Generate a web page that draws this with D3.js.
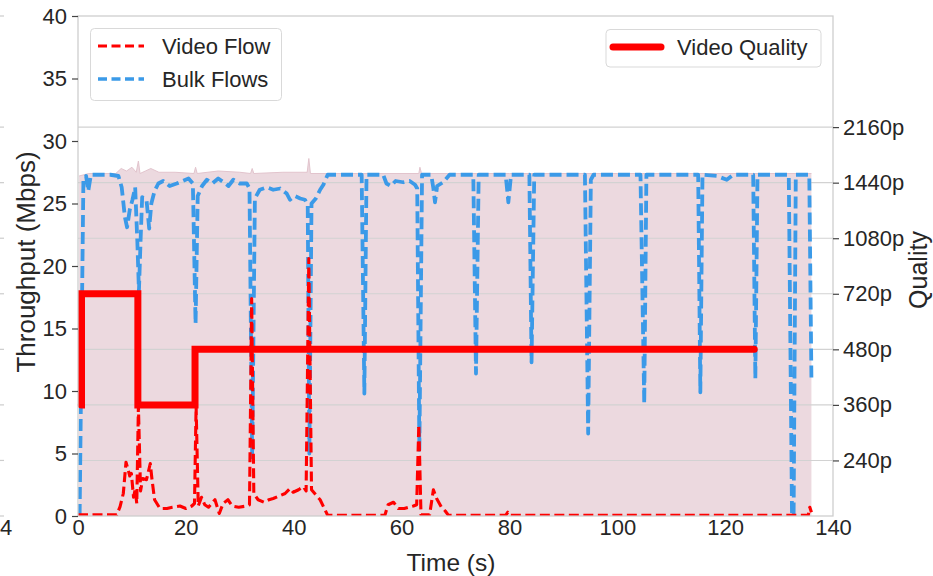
<!DOCTYPE html>
<html>
<head>
<meta charset="utf-8">
<script src="https://cdn.jsdelivr.net/npm/d3@7"></script>
<style>
  html, body { margin: 0; padding: 0; background: #ffffff; }
  svg { display: block; font-family: "Liberation Sans", Arial, sans-serif; }
</style>
</head>
<body>
<svg id="chart" width="933" height="576"></svg>
<script>
// ---- data -------------------------------------------------------------
// Total link throughput (shaded area), Mbps
const totalTimes  = [0.2, 2, 7, 8, 9, 10, 10.8, 11.2, 11.5, 12.5, 13.5, 15, 18, 21.5, 21.8, 22.1, 26, 30, 32, 32.3, 32.6, 38, 42.5, 42.8, 43.1, 46, 63.2, 63.4, 63.7, 80, 100, 120, 136];
const totalValues = [27.2, 27.4, 27.4, 27.8, 27.6, 27.9, 27.5, 28.4, 27.4, 27.6, 27.8, 27.5, 27.5, 27.4, 27.9, 27.4, 27.6, 27.5, 27.4, 27.8, 27.4, 27.5, 27.5, 28.6, 27.4, 27.4, 27.4, 27.9, 27.4, 27.4, 27.4, 27.4, 27.4];

// Bulk flows throughput, Mbps
const bulkTimes  = [0.3, 1.0, 1.5, 1.9, 2.4, 4, 6, 7.5, 8.1, 8.7, 9.1, 9.6, 10.1, 10.6, 11.0, 11.3, 11.6, 11.9, 12.7, 13.2, 13.6, 14.2, 14.9, 15.8, 17.0, 18.3, 19.4, 20.5, 21.3, 21.8, 22.2, 23.0, 23.9, 24.9, 26.0, 27.0, 27.9, 28.8, 30.0, 31.3, 31.8, 32.3, 32.8, 33.7, 35.0, 36.2, 37.5, 38.7, 39.3, 40.2, 41.2, 42.1, 42.6, 42.9, 43.3, 44.1, 44.9, 45.5, 46.3, 52.6, 53.1, 53.5, 56.6, 57.2, 58.0, 58.9, 60.3, 61.5, 62.5, 62.9, 63.3, 63.8, 65.5, 65.9, 66.2, 66.6, 67.7, 68.9, 73.3, 73.8, 74.3, 79.3, 79.8, 80.3, 83.7, 84.1, 84.6, 94.0, 94.6, 95.1, 95.6, 104.3, 105.0, 105.4, 115.0, 115.4, 115.8, 118.5, 120.3, 121.5, 125.2, 125.6, 126.0, 131.8, 132.4, 132.7, 133.1, 135.6, 136.0];
const bulkValues = [0.0, 26.8, 27.2, 26.0, 27.3, 27.3, 27.3, 27.2, 26.3, 23.9, 23.1, 24.5, 25.3, 26.3, 22.0, 18.0, 22.0, 25.5, 25.3, 23.0, 25.0, 26.0, 26.6, 26.8, 26.4, 26.6, 26.8, 27.0, 26.6, 15.4, 25.6, 26.4, 26.9, 26.6, 27.0, 26.7, 26.4, 26.9, 26.6, 26.6, 26.2, 4.7, 25.4, 26.1, 26.3, 26.1, 26.2, 25.8, 25.3, 25.6, 25.4, 25.3, 24.8, 5.0, 25.0, 25.4, 26.1, 26.5, 27.3, 27.3, 9.8, 27.3, 27.3, 26.6, 26.4, 26.8, 26.7, 26.8, 26.5, 26.2, 5.3, 27.3, 27.3, 26.2, 25.1, 26.4, 26.7, 27.3, 27.3, 11.4, 27.3, 27.3, 25.1, 27.3, 27.3, 12.3, 27.3, 27.3, 6.6, 26.9, 27.3, 27.3, 9.0, 27.3, 27.3, 9.9, 27.3, 27.2, 26.9, 27.3, 27.3, 11.0, 27.3, 27.3, 0.0, 0.2, 27.3, 27.3, 10.9];

// Video flow throughput, Mbps
const videoTimes  = [0, 7.2, 7.8, 8.4, 8.9, 9.3, 9.6, 9.9, 10.3, 10.6, 10.9, 11.2, 11.6, 12.0, 12.7, 13.4, 13.7, 14.2, 15.2, 16.5, 17.5, 18.9, 20.0, 21.1, 21.6, 21.9, 22.3, 22.9, 23.5, 24.2, 25.4, 26.2, 26.9, 27.8, 28.6, 29.8, 31.3, 31.8, 32.2, 32.6, 33.4, 34.5, 35.4, 36.2, 37.3, 38.4, 39.3, 39.9, 40.9, 41.8, 42.3, 42.8, 43.3, 43.9, 44.9, 45.8, 46.3, 56.9, 57.5, 58.5, 59.4, 60.5, 62.2, 62.8, 63.2, 63.6, 65.2, 65.9, 66.5, 67.4, 68.1, 68.7, 79.3, 79.7, 80.1, 135.4, 135.7, 136.0];
const videoValues = [0.1, 0.1, 0.75, 1.8, 4.3, 3.7, 3.2, 3.4, 1.5, 2.1, 1.0, 8.8, 2.0, 3.0, 2.9, 4.2, 3.0, 1.3, 0.6, 0.6, 0.7, 0.8, 0.6, 0.8, 1.0, 8.8, 0.8, 1.5, 0.9, 0.7, 1.3, 0.2, 1.0, 1.3, 0.8, 0.7, 0.8, 0.9, 17.4, 1.8, 1.3, 1.1, 1.3, 1.4, 1.6, 1.8, 2.2, 1.9, 2.1, 2.35, 2.0, 20.6, 2.1, 1.8, 1.3, 0.5, 0.05, 0.05, 0.9, 1.1, 0.6, 0.6, 0.8, 0.9, 7.3, 0.1, 0.1, 2.1, 1.4, 0.7, 0.4, 0.05, 0.05, 0.3, 0.05, 0.05, 0.7, 0.3];

// Video quality (step changes), on the right-hand axis
const qualityLabels = ["240p", "360p", "480p", "720p", "1080p", "1440p", "2160p"];
const qualityTimes  = [0.6, 0.65, 11.1, 21.7, 125.4];
const qualityValues = ["360p", "720p", "360p", "480p", "480p"];

const throughputTicks = [0, 5, 10, 15, 20, 25, 30, 35, 40];
const timeTicks = [0, 20, 40, 60, 80, 100, 120, 140];

// ---- layout -----------------------------------------------------------
const svg = d3.select("#chart");
const plotLeft = 78, plotRight = 833, plotTop = 16, plotBottom = 516;
const textColor = "#262626";
const gridColor = "#d2d2d2";
const spineColor = "#cccccc";
const fontTick = 22, fontLegend = 22;
const bulkColor = "#3b9ae8", videoColor = "#ff0000";

const x  = d3.scaleLinear().domain([0, 140]).range([plotLeft, plotRight]);
const y  = d3.scaleLinear().domain([0, 40]).range([plotBottom, plotTop]);
const yq = d3.scaleLinear().domain([0, 9]).range([plotBottom, plotTop]);
const qIndex = q => qualityLabels.indexOf(q) + 1;

// neighbouring panel edge on the far left
const stubYs = [plotTop, plotBottom].concat(qualityLabels.map((q, i) => yq(i + 1)));
svg.append("g").selectAll("line").data(stubYs).join("line")
  .attr("x1", 0).attr("x2", 4).attr("y1", d => d).attr("y2", d => d)
  .attr("stroke", spineColor).attr("stroke-width", 1.2);
svg.append("text").attr("x", 0).attr("y", 535).attr("text-anchor", "start")
  .attr("font-size", fontTick).attr("fill", textColor).text("4");

// clip to plot area
svg.append("clipPath").attr("id", "plotClip")
  .append("rect").attr("x", plotLeft).attr("y", plotTop)
  .attr("width", plotRight - plotLeft).attr("height", plotBottom - plotTop);
const plot = svg.append("g").attr("clip-path", "url(#plotClip)");

// total throughput area
const totalData = totalTimes.map((t, i) => [t, totalValues[i]]);
plot.append("path").datum(totalData)
  .attr("d", d3.area().x(d => x(d[0])).y0(y(0)).y1(d => y(d[1])))
  .attr("fill", "#ecd9df");
plot.append("path").datum(totalData)
  .attr("d", d3.line().x(d => x(d[0])).y(d => y(d[1])))
  .attr("fill", "none").attr("stroke", "#e2c4cd").attr("stroke-width", 1);

// grid lines from the quality axis
plot.append("g").selectAll("line").data(qualityLabels.map((q, i) => i + 1)).join("line")
  .attr("x1", plotLeft).attr("x2", plotRight).attr("y1", d => yq(d)).attr("y2", d => yq(d))
  .attr("stroke", gridColor).attr("stroke-width", 1.1);

// bulk flows
const bulkData = bulkTimes.map((t, i) => [t, bulkValues[i]]);
plot.append("path").datum(bulkData)
  .attr("d", d3.line().x(d => x(d[0])).y(d => y(d[1])))
  .attr("fill", "none").attr("stroke", bulkColor).attr("stroke-width", 3.8)
  .attr("stroke-dasharray", "12,5").attr("stroke-linejoin", "round");

// video flow
const videoData = videoTimes.map((t, i) => [t, videoValues[i]]);
plot.append("path").datum(videoData)
  .attr("d", d3.line().x(d => x(d[0])).y(d => y(d[1])))
  .attr("fill", "none").attr("stroke", videoColor).attr("stroke-width", 3.1)
  .attr("stroke-dasharray", "10,4.5").attr("stroke-linejoin", "round");

// video quality
const qualityData = qualityTimes.map((t, i) => [t, qIndex(qualityValues[i])]);
svg.append("path").datum(qualityData)
  .attr("d", d3.line().curve(d3.curveStepAfter).x(d => x(d[0])).y(d => yq(d[1])))
  .attr("fill", "none").attr("stroke", videoColor).attr("stroke-width", 7)
  .attr("stroke-linecap", "round").attr("stroke-linejoin", "miter");

// spines
svg.append("rect").attr("x", plotLeft).attr("y", plotTop)
  .attr("width", plotRight - plotLeft).attr("height", plotBottom - plotTop)
  .attr("fill", "none").attr("stroke", spineColor).attr("stroke-width", 1.25);

// axes
function styleAxis(g) {
  g.select(".domain").remove();
  g.selectAll(".tick line").attr("stroke", "#444").attr("stroke-width", 1.2);
  g.selectAll(".tick text").attr("fill", textColor).attr("font-size", fontTick)
    .attr("font-family", "Liberation Sans, Arial, sans-serif");
}
svg.append("g").attr("transform", `translate(${plotLeft},0)`)
  .call(d3.axisLeft(y).tickValues(throughputTicks).tickSize(6).tickPadding(5).tickFormat(d3.format("d")))
  .call(styleAxis);
svg.append("g").attr("transform", `translate(${plotRight},0)`)
  .call(d3.axisRight(yq).tickValues(qualityLabels.map((q, i) => i + 1)).tickSize(6).tickPadding(4)
    .tickFormat(d => qualityLabels[d - 1]))
  .call(styleAxis);
svg.append("g").attr("transform", `translate(0,${plotBottom})`)
  .call(d3.axisBottom(x).tickValues(timeTicks).tickSize(0).tickPadding(3).tickFormat(d3.format("d")))
  .call(styleAxis);

// axis titles
svg.append("text").attr("transform", "translate(26,262) rotate(-90)")
  .attr("text-anchor", "middle").attr("dy", "0.35em")
  .attr("font-size", 26).attr("fill", textColor).text("Throughput (Mbps)");
svg.append("text").attr("transform", "translate(918,270) rotate(-90)")
  .attr("text-anchor", "middle").attr("dy", "0.35em")
  .attr("font-size", 25).attr("fill", textColor).text("Quality");
svg.append("text").attr("x", 451).attr("y", 571)
  .attr("text-anchor", "middle")
  .attr("font-size", 24.5).attr("fill", textColor).text("Time (s)");

// legends
const legL = svg.append("g");
legL.append("rect").attr("x", 90.5).attr("y", 28.5).attr("width", 191).attr("height", 72).attr("rx", 4)
  .attr("fill", "#ffffff").attr("fill-opacity", 0.85).attr("stroke", "#d9d9d9");
const legItems = [
  { label: "Video Flow", color: videoColor, width: 3.1, dash: "9,4.5", cy: 46 },
  { label: "Bulk Flows", color: bulkColor, width: 3.6, dash: "9,4.5", cy: 79 }
];
legItems.forEach(it => {
  legL.append("line").attr("x1", 98).attr("x2", 144).attr("y1", it.cy).attr("y2", it.cy)
    .attr("stroke", it.color).attr("stroke-width", it.width).attr("stroke-dasharray", it.dash);
  legL.append("text").attr("x", 162).attr("y", it.cy).attr("dy", "0.35em")
    .attr("font-size", fontLegend).attr("fill", textColor).text(it.label);
});
const legR = svg.append("g");
legR.append("rect").attr("x", 606).attr("y", 29.5).attr("width", 215).attr("height", 37.5).attr("rx", 4)
  .attr("fill", "#ffffff").attr("fill-opacity", 0.85).attr("stroke", "#d9d9d9");
legR.append("line").attr("x1", 613).attr("x2", 661).attr("y1", 47).attr("y2", 47)
  .attr("stroke", videoColor).attr("stroke-width", 7).attr("stroke-linecap", "round");
legR.append("text").attr("x", 677).attr("y", 47).attr("dy", "0.35em")
  .attr("font-size", fontLegend).attr("fill", textColor).text("Video Quality");
</script>
</body>
</html>
